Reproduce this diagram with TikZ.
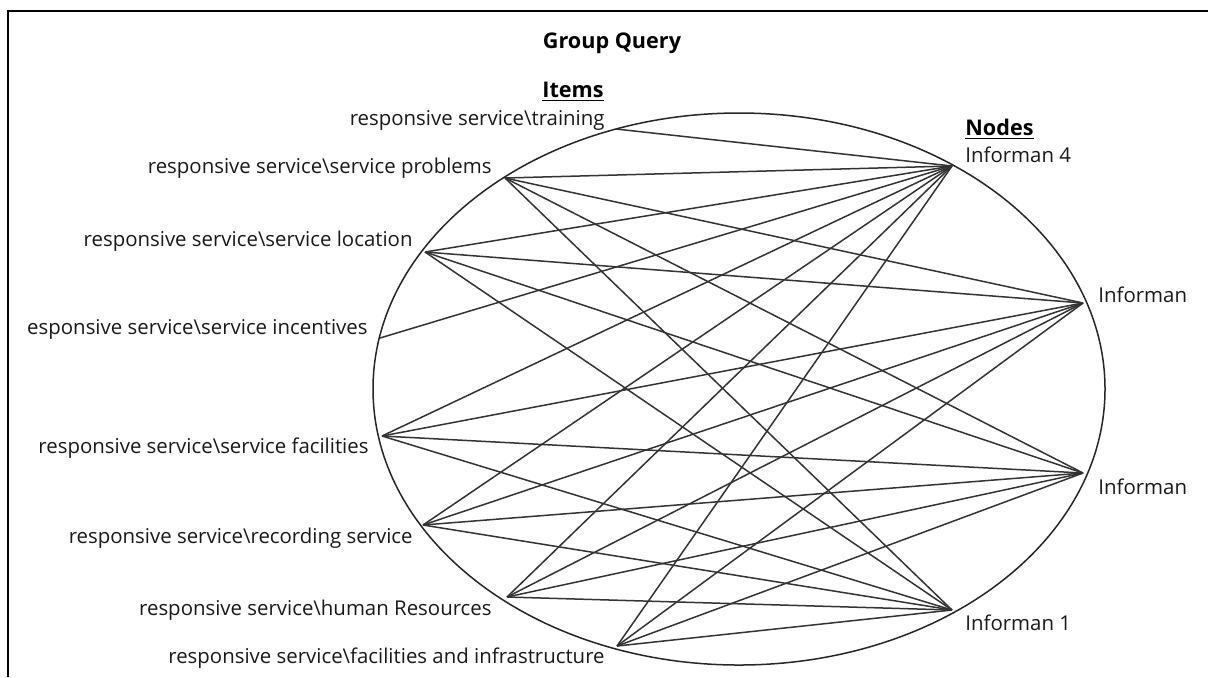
\documentclass[tikz,border=0pt]{standalone}
\usepackage{fontspec}
\setmainfont{Open Sans}
\begin{document}
\begin{tikzpicture}[x=0.5pt,y=-0.5pt,
  lbl/.style={inner sep=0pt,font=\fontsize{10.2}{12}\selectfont,text=black!90},
  hdr/.style={inner sep=0pt,font=\fontsize{10.8}{12}\selectfont\bfseries},
  link/.style={draw=black!80,line width=0.75pt},
  ring/.style={draw=black!85,line width=0.75pt},
  frame/.style={draw=black,line width=1pt}]
\useasboundingbox (0,0) rectangle (1208,677);
% frame edges
\draw[frame] (1208,11) -- (8,11) -- (8,677);
% titles
\node[hdr] (title) at (612,43) {Group Query};
\node[hdr] (itemshdr) at (573,92) {\underline{Items}};
\node[hdr,anchor=west] (nodeshdr) at (965,129) {\underline{Nodes}};
% ring
\draw[ring] (739,389) ellipse [x radius=366, y radius=276];
% item points
\coordinate (training) at (616,129);
\coordinate (problems) at (505,178);
\coordinate (location) at (425,252);
\coordinate (incentives) at (380,338);
\coordinate (facilities) at (382,436);
\coordinate (recording) at (423,525);
\coordinate (human) at (507,597);
\coordinate (infra) at (617,646);
% informant points
\coordinate (inf4) at (952,166);
\coordinate (infA) at (1083,303);
\coordinate (infB) at (1083,473);
\coordinate (inf1) at (952,610);
% item labels
\node[lbl,anchor=east] (ltraining) at (605,120) {responsive service\textbackslash training};
\node[lbl,anchor=east] (lproblems) at (492,168) {responsive service\textbackslash service problems};
\node[lbl,anchor=east] (llocation) at (413,241) {responsive service\textbackslash service location};
\node[lbl,anchor=east] (lincentives) at (368,329) {esponsive service\textbackslash service incentives};
\node[lbl,anchor=east] (lfacilities) at (369,448) {responsive service\textbackslash service facilities};
\node[lbl,anchor=east] (lrecording) at (413,538) {responsive service\textbackslash recording service};
\node[lbl,anchor=east] (lhuman) at (492,610) {responsive service\textbackslash human Resources};
\node[lbl,anchor=east] (linfra) at (605,658) {responsive service\textbackslash facilities and infrastructure};
% informant labels
\node[lbl,anchor=west] (linf4) at (965,155) {Informan 4};
\node[lbl,anchor=west] (linfA) at (1098,295) {Informan};
\node[lbl,anchor=west] (linfB) at (1098,487) {Informan};
\node[lbl,anchor=west] (linf1) at (965,623) {Informan 1};
% links
\draw[link] (training) -- (inf4);
\draw[link] (incentives) -- (inf4);
\foreach \i in {problems,location,facilities,recording,human,infra}{
  \foreach \j in {inf4,infA,infB,inf1}{
    \draw[link] (\i) -- (\j);
  }
}
\end{tikzpicture}
\end{document}
